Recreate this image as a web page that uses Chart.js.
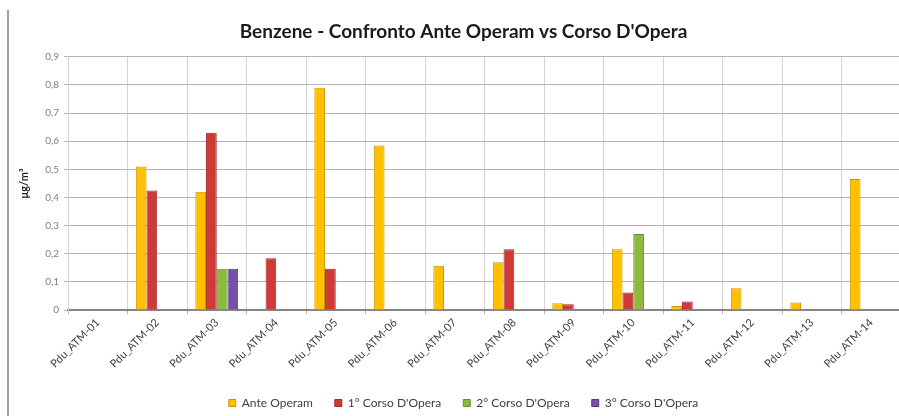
<!DOCTYPE html>
<html><head><meta charset="utf-8">
<script src="https://cdn.jsdelivr.net/npm/chart.js@4/dist/chart.umd.min.js"></script>
<style>
html,body{margin:0;padding:0;background:#fff;overflow:hidden;width:899px;height:416px}
#wrap{position:absolute;left:0;top:0;width:901px;height:416px}
#frame{position:absolute;left:7px;top:10px;width:0;height:406px;border-left:2px solid #a0a0a0}
</style></head><body>
<div id="frame"></div>
<div id="wrap"><canvas id="c" width="901" height="416"></canvas></div>
<script>
const categories = ['Pdu_ATM-01','Pdu_ATM-02','Pdu_ATM-03','Pdu_ATM-04','Pdu_ATM-05','Pdu_ATM-06','Pdu_ATM-07','Pdu_ATM-08','Pdu_ATM-09','Pdu_ATM-10','Pdu_ATM-11','Pdu_ATM-12','Pdu_ATM-13','Pdu_ATM-14'];
const anteOperam = [null,0.51,0.42,null,0.79,0.585,0.157,0.17,0.024,0.216,0.014,0.077,0.027,0.466];
const corso1 = [null,0.425,0.63,0.184,0.147,null,null,0.216,0.02,0.062,0.03,null,null,null];
const corso2 = [null,null,0.147,null,null,null,null,null,null,0.27,null,null,null,null];
const corso3 = [null,null,0.147,null,null,null,null,null,null,null,null,null,null,null];
const seriesNames = ['Ante Operam','1° Corso D\'Opera','2° Corso D\'Opera','3° Corso D\'Opera'];
const yTickLabels = ['0','0,1','0,2','0,3','0,4','0,5','0,6','0,7','0,8','0,9'];
const chartTitle = 'Benzene - Confronto Ante Operam vs Corso D\'Opera';
const yTitle = 'μg/m³';

const fills = ['#FFC000','#CF3A37','#8DBA3E','#7450A8'];
const borders = ['#C99500','#9E2826','#6A8F2A','#533880'];
const seriesData = [anteOperam, corso1, corso2, corso3];

new Chart(document.getElementById('c'), {
  type: 'bar',
  data: {
    labels: categories,
    datasets: seriesData.map((d, i) => ({
      label: seriesNames[i],
      data: d,
      backgroundColor: fills[i],
      borderColor: borders[i],
      borderWidth: 1,
      barPercentage: 1,
      categoryPercentage: 0.72
    }))
  },
  options: {
    responsive: false,
    animation: false,
    devicePixelRatio: 1,
    layout: { padding: { left: 26, right: 0, top: 0, bottom: -3 } },
    scales: {
      x: {
        grid: { offset: true, color: '#d4d4d4', lineWidth: 1, tickLength: 4, tickColor: '#b0b0b0' },
        border: { color: '#858585', width: 2 },
        ticks: { minRotation: 45, maxRotation: 45, autoSkip: false, padding: 2,
          font: { family: 'Lato', size: 11 }, color: '#404040' },
        afterFit: s => { s.height = 65; }
      },
      y: {
        min: 0, max: 0.9,
        grid: { color: '#b4b4b4', lineWidth: 1, tickLength: 4, tickColor: '#b4b4b4' },
        border: { color: '#d4d4d4', width: 1 },
        ticks: { stepSize: 0.1, padding: 5, font: { family: 'Lato', size: 10 }, color: '#7f7f7f',
          callback: (v, i) => yTickLabels[i] },
        title: { display: true, text: yTitle, font: { family: 'Lato', size: 11, weight: 'bold' }, color: '#222', padding: { top: -8, bottom: 0 } },
        afterFit: s => { s.width = 42; }
      }
    },
    plugins: {
      title: { display: true, text: chartTitle, font: { family: 'Lato', size: 19, weight: 'bold' }, color: '#1a1a1a', padding: { top: 20, bottom: 14 } },
      legend: { position: 'bottom',
        labels: { boxWidth: 7, boxHeight: 7, padding: 22, font: { family: 'Lato', size: 12 }, color: '#404040' } },
      tooltip: { enabled: false }
    }
  }
});
</script>
</body></html>
